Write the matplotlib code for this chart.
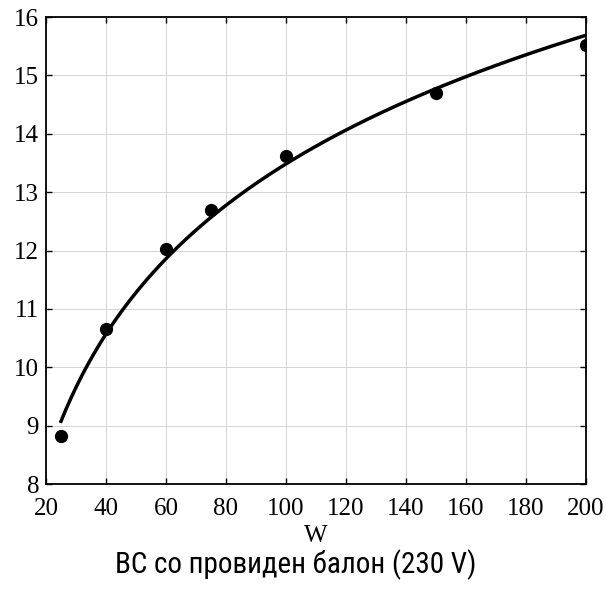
import matplotlib

matplotlib.use("Agg")
import matplotlib.pyplot as plt
import numpy as np
from matplotlib import font_manager

power_w = [25, 40, 60, 75, 100, 150, 200]
efficacy = [8.83, 10.65, 12.02, 12.69, 13.62, 14.69, 15.52]

x_ticks = [20, 40, 60, 80, 100, 120, 140, 160, 180, 200]
y_ticks = [8, 9, 10, 11, 12, 13, 14, 15, 16]

TITLE = "ВС со провиден балон (230 V)"
XLABEL = "W"


def pick_title_font() -> tuple[str, float]:
    # the original uses a condensed sans; fall back to a smaller regular one
    for name in ["Liberation Sans Narrow", "Roboto Condensed", "Open Sans Condensed"]:
        try:
            font_manager.findfont(font_manager.FontProperties(family=name),
                                  fallback_to_default=False)
            return name, 21
        except ValueError:
            continue
    return "Liberation Sans", 19


def main() -> None:
    fig = plt.figure(figsize=(6.06, 5.93), dpi=100)
    ax = fig.add_axes([0.0759, 0.1838, 0.8911, 0.7875])

    # logarithmic least-squares trend through the measurements
    b, a = np.polyfit(np.log(power_w), efficacy, 1)
    xs = np.linspace(min(power_w), max(power_w), 200)
    ax.plot(xs, a + b * np.log(xs), color="black", linewidth=2.5, zorder=3)

    ax.plot(power_w, efficacy, "o", color="black", markersize=8.5, zorder=4)

    ax.set_xlim(20, 200)
    ax.set_ylim(8, 16)
    ax.set_xticks(x_ticks)
    ax.set_yticks(y_ticks)
    ax.grid(True, color="#d4d4d4", linewidth=0.7)
    ax.set_axisbelow(True)

    serif = {"family": "Liberation Serif", "size": 18}
    ax.set_xticklabels([str(t) for t in x_ticks], fontdict=serif)
    ax.set_yticklabels([str(t) for t in y_ticks], fontdict=serif)
    ax.tick_params(direction="in", length=4, width=1, top=True, right=True)
    ax.tick_params(axis="x", pad=10)
    ax.tick_params(axis="y", pad=5)
    for spine in ax.spines.values():
        spine.set_linewidth(1.3)

    ax.set_xlabel(XLABEL, fontdict=serif, labelpad=4)
    family, size = pick_title_font()
    fig.text(0.488, 0.047, TITLE, ha="center", va="center",
             family=[family, "DejaVu Sans"], fontsize=size)

    fig.savefig("out.png", dpi=100)


if __name__ == "__main__":
    main()
